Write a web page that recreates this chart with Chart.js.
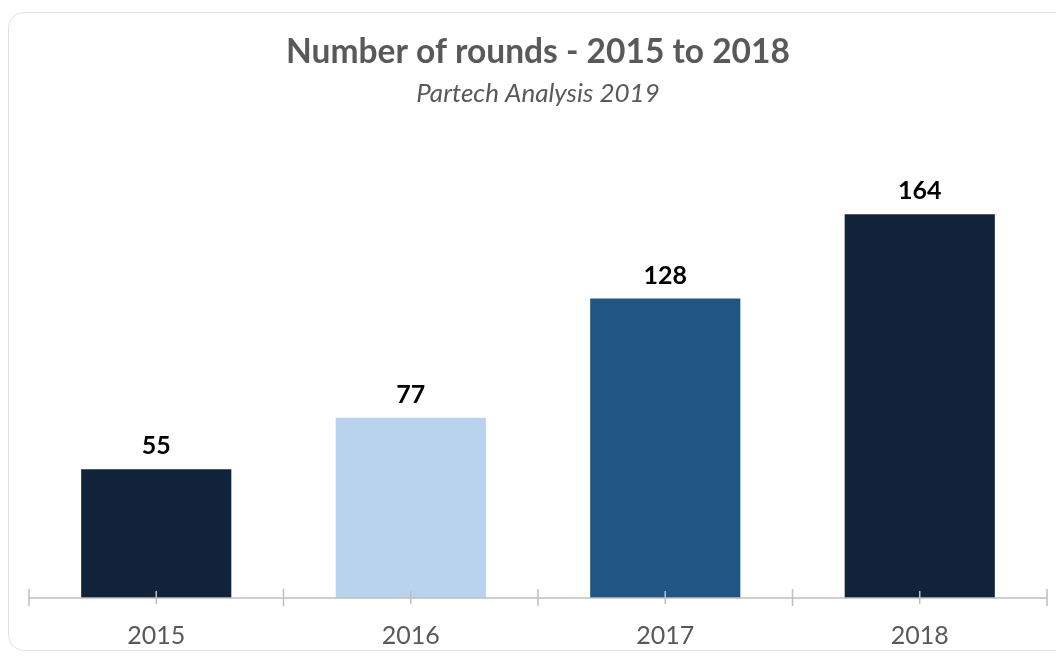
<!DOCTYPE html>
<html>
<head>
<meta charset="utf-8">
<script src="https://cdn.jsdelivr.net/npm/chart.js@4"></script>
<style>
  html, body { margin: 0; padding: 0; background: #fff; overflow: hidden; }
  #wrap { position: relative; width: 1056px; height: 657px; }
  #frame {
    position: absolute; left: 8px; top: 12px; width: 1070px; height: 639px;
    border: 1px solid #e2e2e2; border-radius: 16px; box-sizing: border-box;
  }
  canvas { position: absolute; left: 0; top: 0; }
</style>
</head>
<body>
<div id="wrap">
  <div id="frame"></div>
  <canvas id="myChart" width="1056" height="657"></canvas>
</div>
<script>
const years = ['2015', '2016', '2017', '2018'];
const rounds = [55, 77, 128, 164];
const barColors = ['#10233a', '#b9d3ee', '#215584', '#10233a'];

const FONT = 'Lato, "Open Sans", sans-serif';

// values above the bars
const valueLabels = {
  id: 'valueLabels',
  afterDatasetsDraw(chart) {
    const ctx = chart.ctx;
    const meta = chart.getDatasetMeta(0);
    ctx.save();
    ctx.font = 'bold 25px ' + FONT;
    ctx.fillStyle = '#000';
    ctx.textAlign = 'center';
    ctx.textBaseline = 'middle';
    meta.data.forEach((bar, i) => {
      ctx.fillText(String(rounds[i]), bar.x, bar.y - 23);
    });
    ctx.restore();
  }
};

// axis line with ticks at category edges and centres
const axisTicks = {
  id: 'axisTicks',
  afterDatasetsDraw(chart) {
    const ctx = chart.ctx;
    const x = chart.scales.x;
    const y0 = chart.chartArea.bottom;
    ctx.save();
    ctx.strokeStyle = '#bfbfbf';
    ctx.lineWidth = 1.5;
    ctx.beginPath();
    ctx.moveTo(chart.chartArea.left, y0);
    ctx.lineTo(chart.chartArea.right, y0);
    const step = x.getPixelForValue(1) - x.getPixelForValue(0);
    for (let i = 0; i < years.length; i++) {
      const c = x.getPixelForValue(i);
      ctx.moveTo(c, y0 - 7);
      ctx.lineTo(c, y0 + 6);
      const l = c - step / 2;
      ctx.moveTo(l, y0 - 9);
      ctx.lineTo(l, y0 + 8);
      if (i === years.length - 1) {
        ctx.moveTo(c + step / 2, y0 - 9);
        ctx.lineTo(c + step / 2, y0 + 8);
      }
    }
    ctx.stroke();
    ctx.restore();
  }
};

new Chart(document.getElementById('myChart').getContext('2d'), {
  type: 'bar',
  data: {
    labels: years,
    datasets: [{
      data: rounds,
      backgroundColor: barColors,
      borderWidth: 0,
      barPercentage: 0.59,
      categoryPercentage: 1
    }]
  },
  options: {
    responsive: false,
    animation: false,
    layout: { padding: { left: 29, right: 9, top: 0, bottom: 0 } },
    scales: {
      x: {
        grid: { display: false },
        border: { display: false },
        ticks: { color: '#595959', font: { family: FONT, size: 25 }, padding: 15 },
        afterFit: (scale) => { scale.height = 59; }
      },
      y: { display: false, min: 0, max: 202 }
    },
    plugins: {
      legend: { display: false },
      tooltip: { enabled: false },
      title: {
        display: true,
        text: 'Number of rounds - 2015 to 2018',
        color: '#595959',
        font: { family: FONT, size: 33.5, weight: 'bold', lineHeight: 1.2 },
        padding: { top: 32, bottom: 0 }
      },
      subtitle: {
        display: true,
        text: 'Partech Analysis 2019',
        color: '#595959',
        font: { family: FONT, size: 26, style: 'italic', lineHeight: 1.2 },
        padding: { top: 6, bottom: 16 }
      }
    }
  },
  plugins: [valueLabels, axisTicks]
});
</script>
</body>
</html>
